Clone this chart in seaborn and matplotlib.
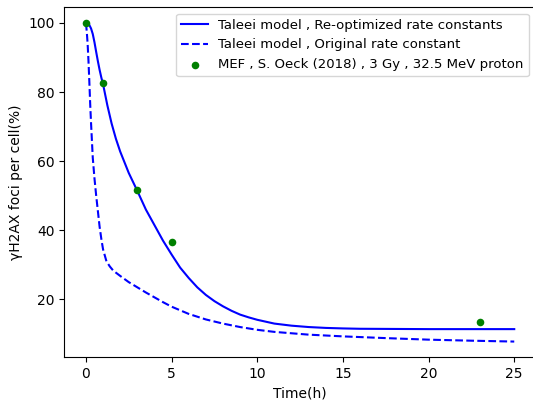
import matplotlib
matplotlib.use("Agg")
import matplotlib.pyplot as plt
import seaborn as sns
import pandas as pd

# Taleei model, re-optimized rate constants (time in h, foci in %)
t_reopt = [0, 0.1, 0.2, 0.3, 0.4, 0.5, 0.6, 0.7, 0.8, 0.9, 1.0, 1.25, 1.5,
           1.75, 2.0, 2.5, 3.0, 3.5, 4.0, 4.5, 5.0, 5.5, 6.0, 6.5, 7.0, 7.5,
           8.0, 8.5, 9.0, 9.5, 10, 11, 12, 13, 14, 15, 16, 18, 20, 22, 25]
v_reopt = [100, 99.9, 99.4, 98.4, 96.8, 94.4, 91.6, 88.9, 86.4, 84.2, 82.3,
           76.2, 70.9, 66.5, 62.8, 56.6, 51.4, 46.0, 41.5, 37.0, 33.0, 29.2,
           26.2, 23.5, 21.3, 19.5, 18.0, 16.7, 15.6, 14.8, 14.1, 13.0, 12.4,
           12.0, 11.75, 11.6, 11.5, 11.45, 11.4, 11.4, 11.4]

# Taleei model, original rate constant
t_orig = [0, 0.05, 0.1, 0.15, 0.2, 0.25, 0.3, 0.4, 0.5, 0.6, 0.7, 0.8, 0.9,
          1.0, 1.2, 1.4, 1.6, 2.0, 2.5, 3.0, 3.5, 4.0, 4.5, 5.0, 6.0, 7.0,
          8.0, 9.0, 10, 11, 12, 13, 14, 15, 17.5, 20, 22.5, 25]
v_orig = [100, 97.5, 94, 89, 83, 76.5, 71, 61, 55, 50, 45.5, 41, 37.5, 34.5,
          31.0, 29.5, 28.3, 26.8, 25.0, 23.5, 22.0, 20.6, 19.2, 17.9, 15.8,
          14.2, 13.0, 12.0, 11.2, 10.6, 10.2, 9.8, 9.55, 9.3, 8.8, 8.35,
          8.05, 7.8]

# MEF measurements, S. Oeck (2018)
t_exp = [0, 1, 3, 5, 23]
v_exp = [100, 82.5, 51.6, 36.6, 13.6]

labels = ["Taleei model , Re-optimized rate constants",
          "Taleei model , Original rate constant",
          "MEF , S. Oeck (2018) , 3 Gy , 32.5 MeV proton"]

reopt = pd.DataFrame({"t": t_reopt, "v": v_reopt})
orig = pd.DataFrame({"t": t_orig, "v": v_orig})
exp = pd.DataFrame({"t": t_exp, "v": v_exp})

fig = plt.figure(figsize=(5.33, 4.01), dpi=100)
ax = fig.add_axes([0.121, 0.1085, 0.884, 0.874])

sns.lineplot(data=reopt, x="t", y="v", ax=ax, color="blue", linewidth=1.5,
             label=labels[0])
sns.lineplot(data=orig, x="t", y="v", ax=ax, color="blue", linewidth=1.5,
             linestyle="--", label=labels[1])
sns.scatterplot(data=exp, x="t", y="v", ax=ax, color="green", s=30,
                linewidth=0, label=labels[2], zorder=3)

ax.set_xlabel("Time(h)")
ax.set_ylabel("γH2AX foci per cell(%)")
ax.set_xticks([0, 5, 10, 15, 20, 25])
ax.set_yticks([20, 40, 60, 80, 100])
ax.legend(loc="upper right", fontsize=9.5)

fig.savefig("out.png", dpi=100)
